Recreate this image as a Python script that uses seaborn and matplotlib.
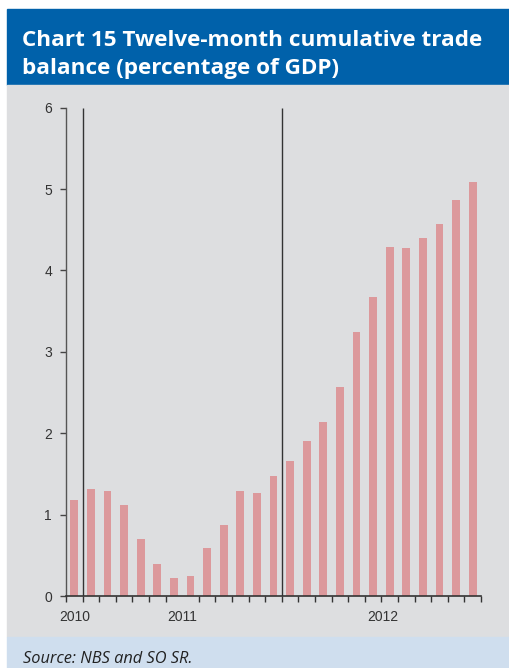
import numpy as np
import pandas as pd
import matplotlib
matplotlib.use('Agg')
import matplotlib.pyplot as plt
import seaborn as sns
from matplotlib.patches import Rectangle

# data (monthly, Dec 2009 - Dec 2011)
months = ['2009-12', '2010-01', '2010-02', '2010-03', '2010-04', '2010-05', '2010-06',
          '2010-07', '2010-08', '2010-09', '2010-10', '2010-11', '2010-12',
          '2011-01', '2011-02', '2011-03', '2011-04', '2011-05', '2011-06',
          '2011-07', '2011-08', '2011-09', '2011-10', '2011-11', '2011-12']
balance = [1.18, 1.32, 1.29, 1.12, 0.70, 0.39, 0.22, 0.24, 0.59, 0.87, 1.29, 1.26, 1.48,
           1.66, 1.91, 2.14, 2.57, 3.24, 3.68, 4.29, 4.27, 4.40, 4.57, 4.86, 5.09]
year_labels = ['2010', '2011', '2012']
year_label_pos = [0, 6.5, 18.6]
divider_pos = [0.5, 12.5]

df = pd.DataFrame({'month': months, 'balance': balance})

sns.set_theme(style='white')
plt.rcParams['font.family'] = ['Liberation Sans', 'DejaVu Sans']

fig = plt.figure(figsize=(5.09, 6.68), dpi=100)
W, H = 509, 668

# background panels
fig.patches.append(Rectangle((7 / W, (H - 85) / H), (W - 7) / W, 76 / H,
                             transform=fig.transFigure, color='#0061aa', zorder=-10))
fig.patches.append(Rectangle((7 / W, (H - 637) / H), (W - 7) / W, 552 / H,
                             transform=fig.transFigure, color='#dddee0', zorder=-10))
fig.patches.append(Rectangle((7 / W, 0), (W - 7) / W, (H - 637) / H,
                             transform=fig.transFigure, color='#cfdeee', zorder=-10))

fig.text(22 / W, (H - 46) / H, 'Chart 15 Twelve-month cumulative trade',
         color='white', fontsize=16.2, fontweight='bold', family='Open Sans',
         va='baseline', ha='left')
fig.text(22 / W, (H - 74) / H, 'balance (percentage of GDP)',
         color='white', fontsize=16.2, fontweight='bold', family='Open Sans',
         va='baseline', ha='left')
fig.text(23 / W, (H - 663) / H, 'Source: NBS and SO SR.', color='#222222',
         fontsize=11.8, style='italic', family='Open Sans', va='baseline', ha='left')

ax = fig.add_axes([66 / W, 72 / H, 415 / W, 488.3 / H])
ax.set_facecolor('none')

sns.barplot(data=df, x='month', y='balance', color='#dc999c', saturation=1,
            width=0.48, linewidth=0, ax=ax)

ax.vlines(divider_pos, 0, 6, color='#333333', lw=1, zorder=3)

ax.set_xlim(-0.5, 24.5)
ax.set_ylim(0, 6)
ax.set_yticks(range(0, 7))
ax.set_xticks(year_label_pos)
ax.set_xticklabels(year_labels)
ax.set_xticks(np.arange(-0.5, 25, 1), minor=True)
ax.tick_params(axis='x', which='major', length=0, pad=10, labelsize=10, labelcolor='#333333')
ax.tick_params(axis='x', which='minor', length=4, width=1, color='#333333', direction='out', bottom=True)
ax.tick_params(axis='y', length=4, width=1, color='#444444', direction='out', left=True,
               pad=6, labelsize=10, labelcolor='#333333')
ax.set_xlabel('')
ax.set_ylabel('')
for s in ['top', 'right']:
    ax.spines[s].set_visible(False)
ax.spines['left'].set_color('#555555')
ax.spines['bottom'].set_color('#333333')
ax.spines['left'].set_linewidth(1)
ax.spines['bottom'].set_linewidth(1.2)

fig.savefig('out.png', dpi=100)
